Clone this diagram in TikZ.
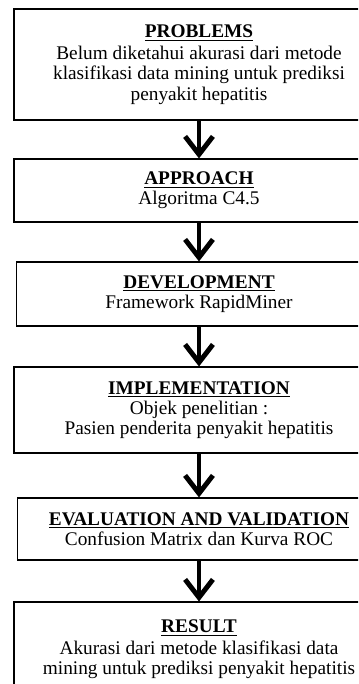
\documentclass[tikz,border=0pt]{standalone}
\usepackage{fontspec}
\setmainfont{Liberation Serif}
\usetikzlibrary{arrows.meta, positioning}

\tikzset{
  stage/.style={draw, line width=0.7pt, align=center, minimum width=226pt,
    inner sep=0pt, font=\fontsize{11.8}{12.4}\selectfont},
  flow/.style={line width=3pt, -{Straight Barb[length=11pt, width=17pt]}},
}
\newcommand{\stagetitle}[1]{\underline{\textbf{#1}}}

\begin{document}
\begin{tikzpicture}[x=0.611pt, y=-0.611pt]
	\useasboundingbox (0,0) rectangle (358,684);
	\clip (0,0) rectangle (358,684);
	
	% stages
	\node[stage, minimum height=67.8pt] (problems) at (199,64.5) {\stagetitle{PROBLEMS}\\[1pt] Belum diketahui akurasi dari metode\\ klasifikasi data mining untuk prediksi\\ penyakit hepatitis};
	\node[stage, minimum height=38.5pt] (approach) at (199,190.5) {\stagetitle{APPROACH}\\ Algoritma C4.5};
	\node[stage, minimum height=39.1pt, minimum width=223pt] (development) at (199,294) {\stagetitle{DEVELOPMENT}\\ Framework RapidMiner};
	\node[stage, minimum height=52.5pt] (implementation) at (199,410) {\stagetitle{IMPLEMENTATION}\\ Objek penelitian :\\ Pasien penderita penyakit hepatitis};
	\node[stage, minimum height=37.9pt, minimum width=222pt] (evaluation) at (199,529) {\stagetitle{EVALUATION AND VALIDATION}\\ Confusion Matrix dan Kurva ROC};
	\node[stage, minimum height=58pt] (result) at (199,649.5) {\stagetitle{RESULT}\\[1pt] Akurasi dari metode klasifikasi data\\ mining untuk prediksi penyakit hepatitis};
	
	% arrows
	\draw[flow] (problems.south) -- (approach.north);
	\draw[flow] (approach.south) -- (development.north);
	\draw[flow] (development.south) -- (implementation.north);
	\draw[flow] (implementation.south) -- (evaluation.north);
	\draw[flow] (evaluation.south) -- (result.north);
\end{tikzpicture}
\end{document}
